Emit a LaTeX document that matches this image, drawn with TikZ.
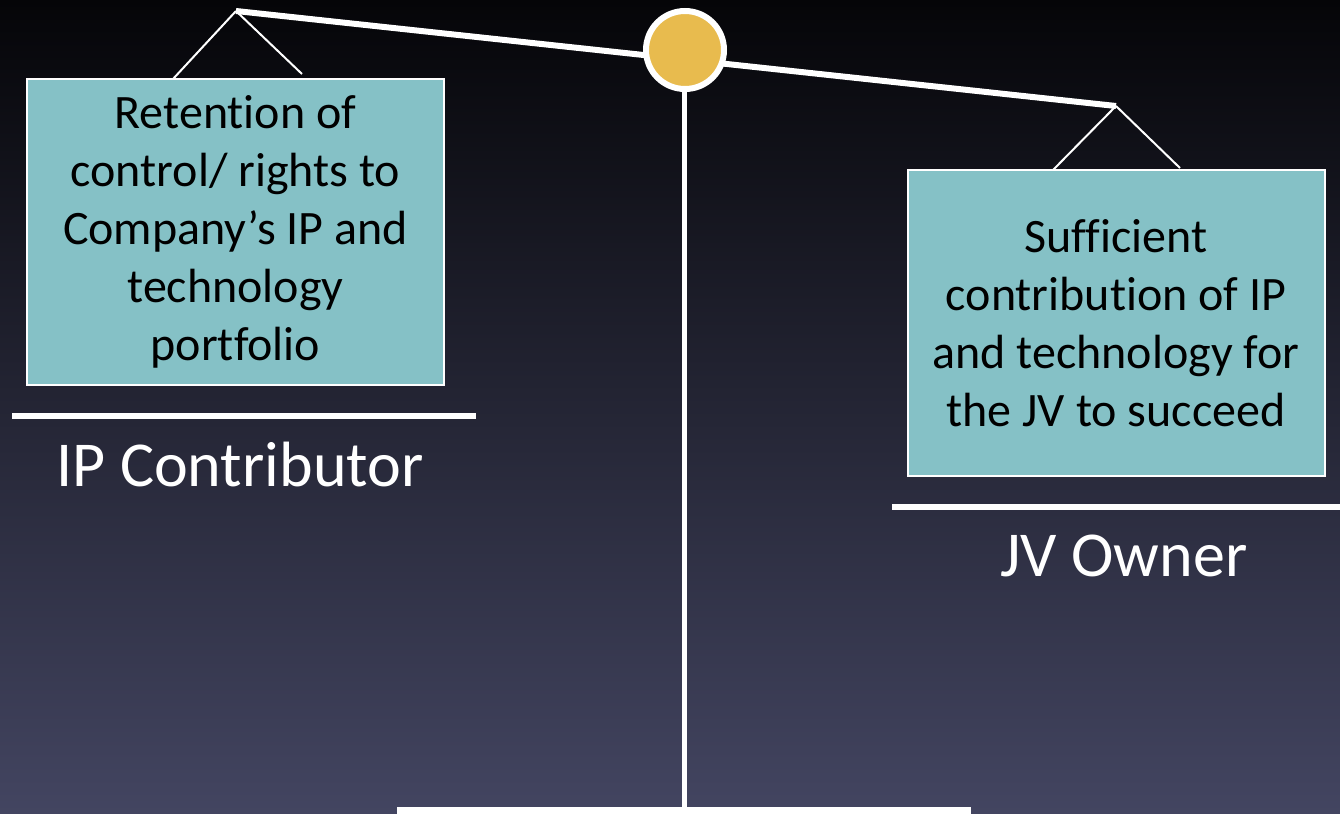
\documentclass[tikz,border=0pt]{standalone}
\usepackage{fontspec}
\setmainfont[Ligatures={NoCommon}]{Carlito}
\usetikzlibrary{positioning}
\definecolor{bgtop}{HTML}{050508}
\definecolor{bgmid}{HTML}{24213E}
\definecolor{bgbot}{HTML}{434561}
\definecolor{boxteal}{HTML}{85C1C6}
\definecolor{pivotgold}{HTML}{E8BB4E}
\tikzset{
  panbox/.style={draw=white,line width=1pt,fill=boxteal,text=black,align=center,
    minimum width=208.5pt,minimum height=153pt,inner sep=0pt,
    font=\fontsize{24}{29}\selectfont},
  hanger/.style={white,line width=1pt},
  ledge/.style={white,line width=3pt},
  sidelabel/.style={text=white,inner sep=0pt,font=\fontsize{32}{40}\selectfont}
}

\begin{document}
\begin{tikzpicture}[x=0.5pt,y=-0.5pt]
  \useasboundingbox (0,0) rectangle (1340,814);
  % background
  \shade[top color=bgtop,middle color=bgmid,bottom color=bgbot] (0,0) rectangle (1340,814);
  % stand: post and foot
  \coordinate (postTop) at (684,80);
  \coordinate (postFoot) at (684,808);
  \draw[white,line width=2.5pt] (postTop) -- (postFoot);
  \fill[white] (397,807) rectangle (971,814);
  % the beam, tilted
  \coordinate (leftEnd) at (236,11);
  \coordinate (rightEnd) at (1116,106);
  \draw[white,line width=3pt] (leftEnd) -- (rightEnd);
  \node[circle,draw=white,line width=3pt,fill=pivotgold,minimum size=39pt,inner sep=0pt] (pivot) at (685,50) {};
  % left pan
  \node[panbox] (leftPan) at (235.5,232) {Retention of\\control/ rights to\\Company’s IP and\\technology\\portfolio};
  \draw[hanger] (leftEnd) -- (173,79);
  \draw[hanger] (leftEnd) -- (302,74);
  \draw[ledge] (12,416) -- (476,416);
  \node[sidelabel,anchor=base] (leftLabel) at (240,486) {IP Contributor};
  % right pan
  \node[panbox] (rightPan) at (1116,323) {Sufficient\\contribution of IP\\and technology for\\the JV to succeed};
  \draw[hanger] (rightEnd) -- (1053,170);
  \draw[hanger] (rightEnd) -- (1180,168);
  \draw[ledge] (892,507) -- (1340,507);
  \node[sidelabel,anchor=base] (rightLabel) at (1124,576) {JV Owner};
\end{tikzpicture}
\end{document}
